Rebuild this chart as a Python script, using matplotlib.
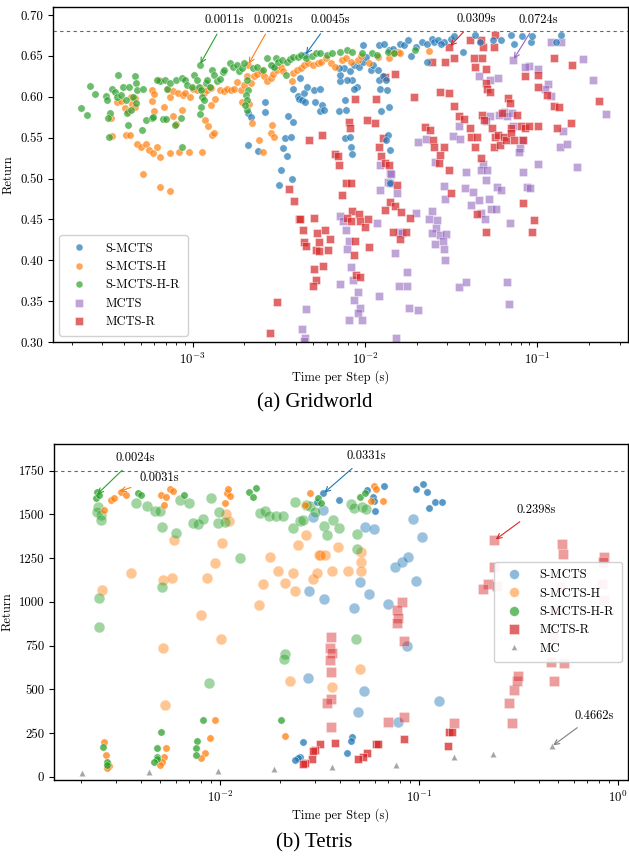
import numpy as np
import matplotlib
matplotlib.use("Agg")
import matplotlib.pyplot as plt
from matplotlib.lines import Line2D
from matplotlib.ticker import FormatStrFormatter, FixedLocator

plt.rcParams['font.family'] = 'serif'
plt.rcParams['font.serif'] = ['cmr10', 'DejaVu Serif']
plt.rcParams['mathtext.fontset'] = 'cm'
plt.rcParams['axes.formatter.use_mathtext'] = True
plt.rcParams['axes.unicode_minus'] = False

# ---------------- Gridworld data (log10 of time per step, return) ----------------
grid_shr_logt = [
    -3.645, -3.610, -3.597, -3.568, -3.504, -3.494, -3.480, -3.490, -3.486, -3.465,
    -3.451, -3.432, -3.438, -3.418, -3.403, -3.387, -3.380, -3.374, -3.368, -3.355,
    -3.345, -3.335, -3.331, -3.329, -3.325, -3.287, -3.271, -3.291, -3.238, -3.229,
    -3.170, -3.155, -3.103, -3.068, -3.064, -3.190, -3.209, -3.161, -3.151, -3.132,
    -3.097, -3.064, -3.044, -3.035, -3.006, -2.992, -2.977, -2.963, -2.953, -2.946,
    -2.951, -2.957, -2.934, -2.924, -2.915, -2.899, -2.889, -2.876, -2.860, -2.841,
    -2.825, -2.818, -2.783, -2.763, -2.740, -2.732, -2.715, -2.701, -2.686, -2.676,
    -2.690, -2.686, -2.682, -2.696, -2.647, -2.624, -2.589, -2.570, -2.546, -2.527,
    -2.517, -2.502, -2.482, -2.453, -2.457, -2.434, -2.415, -2.391, -2.370, -2.341,
    -2.308, -2.283, -2.260, -2.959, -2.221, -2.192, -2.143, -2.105, -2.076, -2.017,
    -1.959, -1.930, -1.868, -1.829, -1.707]
grid_shr_ret = [
    0.586, 0.578, 0.613, 0.603, 0.601, 0.596, 0.580, 0.574, 0.551, 0.609,
    0.606, 0.627, 0.600, 0.602, 0.612, 0.596, 0.580, 0.566, 0.612, 0.584,
    0.600, 0.625, 0.617, 0.592, 0.608, 0.609, 0.572, 0.559, 0.574, 0.575,
    0.573, 0.573, 0.566, 0.574, 0.539, 0.619, 0.621, 0.621, 0.609, 0.617,
    0.621, 0.623, 0.621, 0.614, 0.612, 0.627, 0.621, 0.612, 0.608, 0.600,
    0.588, 0.579, 0.596, 0.617, 0.621, 0.612, 0.633, 0.627, 0.619, 0.622,
    0.630, 0.633, 0.641, 0.637, 0.639, 0.631, 0.635, 0.641, 0.621, 0.608,
    0.602, 0.596, 0.584, 0.590, 0.635, 0.637, 0.633, 0.647, 0.639, 0.637,
    0.647, 0.643, 0.645, 0.643, 0.627, 0.646, 0.649, 0.649, 0.651, 0.648,
    0.650, 0.653, 0.654, 0.639, 0.651, 0.654, 0.655, 0.657, 0.655, 0.653,
    0.653, 0.651, 0.655, 0.654, 0.657]

grid_sh_logt = [
    -3.471, -3.465, -3.438, -3.413, -3.389, -3.364, -3.355, -3.349, -3.333, -3.393,
    -3.374, -3.335, -3.322, -3.302, -3.273, -3.254, -3.229, -3.209, -3.190, -3.128,
    -3.287, -3.186, -3.132, -3.079, -3.019, -2.946, -3.116, -3.097, -3.064, -3.238,
    -3.234, -3.225, -3.225, -3.194, -3.167, -3.141, -3.132, -3.112, -3.083, -3.058,
    -3.042, -3.015, -2.996, -2.973, -2.951, -2.934, -2.915, -2.895, -2.930, -2.909,
    -2.887, -2.874, -2.891, -2.870, -2.841, -2.818, -2.798, -2.779, -2.760, -2.740,
    -2.721, -2.701, -2.682, -2.663, -2.643, -2.624, -2.605, -2.585, -2.566, -2.546,
    -2.535, -2.511, -2.488, -2.477, -2.415, -2.422, -2.395, -2.372, -2.356, -2.333,
    -2.304, -2.275, -2.711, -2.670, -2.657, -2.616, -2.589, -2.546, -2.527, -2.541,
    -2.678, -2.256, -2.225, -2.198, -2.173, -2.134, -2.109, -2.081, -2.043, -2.023,
    -1.979, -1.926, -1.862, -1.837, -1.810, -1.795, -1.630]
grid_sh_ret = [
    0.574, 0.552, 0.594, 0.595, 0.553, 0.553, 0.600, 0.591, 0.598, 0.586,
    0.582, 0.588, 0.542, 0.538, 0.542, 0.535, 0.531, 0.538, 0.526, 0.531,
    0.506, 0.490, 0.485, 0.532, 0.533, 0.533, 0.577, 0.567, 0.584, 0.608,
    0.595, 0.603, 0.583, 0.621, 0.588, 0.610, 0.600, 0.607, 0.604, 0.602,
    0.605, 0.600, 0.609, 0.608, 0.611, 0.605, 0.608, 0.611, 0.572, 0.564,
    0.553, 0.556, 0.590, 0.597, 0.608, 0.607, 0.609, 0.608, 0.610, 0.618,
    0.608, 0.614, 0.625, 0.617, 0.625, 0.628, 0.631, 0.625, 0.619, 0.623,
    0.628, 0.633, 0.637, 0.632, 0.629, 0.619, 0.633, 0.635, 0.639, 0.641,
    0.639, 0.641, 0.594, 0.591, 0.568, 0.547, 0.533, 0.556, 0.551, 0.566,
    0.639, 0.643, 0.647, 0.641, 0.637, 0.645, 0.647, 0.643, 0.645, 0.650,
    0.641, 0.649, 0.648, 0.653, 0.655, 0.653, 0.656]

grid_s_logt = [
    -2.676, -2.663, -2.676, -2.622, -2.579, -2.579, -2.531, -2.496, -2.488, -2.473,
    -2.461, -2.450, -2.444, -2.430, -2.424, -2.415, -2.415, -2.389, -2.385, -2.376,
    -2.366, -2.356, -2.347, -2.337, -2.298, -2.289, -2.263, -2.260, -2.250, -2.240,
    -2.153, -2.109, -2.114, -2.047, -2.076, -2.105, -2.143, -2.147, -2.124, -2.153,
    -2.085, -2.066, -2.037, -2.014, -2.014, -1.994, -1.965, -1.953, -1.926, -1.917,
    -1.897, -1.878, -1.911, -1.872, -1.862, -1.905, -2.062, -1.917, -1.888, -1.862,
    -1.839, -1.795, -1.771, -1.752, -1.733, -1.703, -1.669, -1.640, -1.610, -1.597,
    -1.578, -1.539, -1.500, -1.481, -1.432, -1.640, -1.558, -1.359, -1.335, -1.258,
    -1.209, -1.151, -1.136, -1.087, -1.039, -1.029, -0.893, -0.864, -2.114, -2.085,
    -2.081, -2.074, -1.864, -1.853, -1.880, -1.857, -2.347]
grid_s_ret = [
    0.580, 0.575, 0.541, 0.534, 0.594, 0.581, 0.638, 0.492, 0.511, 0.537,
    0.549, 0.527, 0.576, 0.551, 0.499, 0.569, 0.610, 0.601, 0.597, 0.623,
    0.596, 0.604, 0.594, 0.612, 0.608, 0.594, 0.610, 0.582, 0.590, 0.584,
    0.582, 0.584, 0.596, 0.612, 0.620, 0.621, 0.619, 0.627, 0.635, 0.635,
    0.632, 0.639, 0.637, 0.643, 0.663, 0.649, 0.633, 0.639, 0.633, 0.620,
    0.625, 0.621, 0.610, 0.608, 0.587, 0.583, 0.610, 0.663, 0.665, 0.657,
    0.659, 0.665, 0.663, 0.669, 0.650, 0.661, 0.667, 0.665, 0.671, 0.667,
    0.669, 0.667, 0.671, 0.674, 0.655, 0.643, 0.665, 0.676, 0.667, 0.669,
    0.669, 0.676, 0.665, 0.674, 0.667, 0.674, 0.667, 0.676, 0.549, 0.551,
    0.539, 0.530, 0.553, 0.535, 0.547, 0.495, 0.651]

grid_mr_logt = [
    -2.327, -2.438, -2.411, -2.382, -2.511, -2.550, -2.295, -2.357, -2.279, -2.231,
    -2.202, -2.264, -2.353, -2.341, -2.283, -2.264, -2.217, -2.244, -2.293, -2.285,
    -2.302, -2.376, -2.250, -2.172, -2.159, -2.153, -2.095, -2.089, -2.109, -2.081,
    -2.134, -2.056, -1.988, -1.940, -1.934, -1.921, -1.907, -1.895, -1.882, -1.862,
    -1.814, -1.828, -1.882, -1.717, -1.649, -1.624, -1.605, -1.597, -1.572, -1.562,
    -1.539, -1.514, -1.500, -1.481, -1.533, -1.610, -1.566, -1.514, -1.485, -1.455,
    -1.426, -1.393, -1.384, -1.359, -1.349, -1.329, -1.320, -1.310, -1.300, -1.291,
    -1.275, -1.262, -1.252, -1.248, -1.229, -1.217, -1.205, -1.194, -1.184, -1.171,
    -1.159, -1.151, -1.155, -1.136, -1.116, -1.093, -1.081, -1.074, -1.047, -0.996,
    -1.070, -0.998, -0.998, -0.942, -0.903, -0.874, -0.884, -0.802, -0.641, -0.797,
    -0.903, -1.368, -1.320, -1.314, -1.252, -1.248, -1.388, -1.329, -1.300, -1.359,
    -1.510, -2.076, -2.105, -2.081, -2.037, -2.031, -1.998, -1.985, -1.975, -2.060,
    -2.062, -2.050, -2.031, -1.853, -1.828, -1.882, -1.791, -1.740, -1.837, -1.795,
    -1.762, -1.349, -1.295, -1.081, -1.019, -1.033]
grid_mr_ret = [
    0.547, 0.487, 0.473, 0.450, 0.349, 0.311, 0.452, 0.437, 0.433, 0.437,
    0.426, 0.422, 0.422, 0.417, 0.413, 0.411, 0.413, 0.393, 0.389, 0.376,
    0.368, 0.450, 0.553, 0.530, 0.527, 0.516, 0.569, 0.562, 0.494, 0.494,
    0.480, 0.597, 0.572, 0.568, 0.597, 0.539, 0.527, 0.549, 0.519, 0.517,
    0.492, 0.628, 0.624, 0.600, 0.563, 0.559, 0.547, 0.539, 0.519, 0.529,
    0.539, 0.511, 0.482, 0.648, 0.643, 0.643, 0.606, 0.604, 0.589, 0.576,
    0.573, 0.562, 0.551, 0.539, 0.551, 0.525, 0.578, 0.572, 0.617, 0.610,
    0.606, 0.562, 0.539, 0.551, 0.553, 0.541, 0.580, 0.551, 0.547, 0.598,
    0.592, 0.562, 0.556, 0.547, 0.578, 0.564, 0.547, 0.562, 0.564, 0.564,
    0.625, 0.627, 0.612, 0.602, 0.589, 0.587, 0.562, 0.568, 0.595, 0.639,
    0.648, 0.648, 0.648, 0.661, 0.661, 0.676, 0.669, 0.669, 0.634, 0.637,
    0.661, 0.460, 0.452, 0.448, 0.456, 0.448, 0.441, 0.450, 0.416, 0.424,
    0.406, 0.382, 0.380, 0.471, 0.466, 0.461, 0.459, 0.452, 0.435, 0.426,
    0.435, 0.456, 0.435, 0.470, 0.449, 0.435]

grid_m_logt = [
    -1.140, -1.049, -1.074, -0.998, -0.923, -0.860, -0.733, -0.674, -0.603, -0.938,
    -0.955, -0.919, -1.339, -1.277, -1.227, -1.223, -1.194, -1.174, -1.145, -1.275,
    -1.300, -1.455, -1.488, -1.450, -1.694, -1.643, -1.591, -1.411, -1.314, -1.329,
    -1.291, -1.101, -1.107, -1.081, -0.996, -0.868, -0.826, -0.849, -0.767, -1.915,
    -1.857, -1.849, -1.868, -1.853, -1.915, -1.814, -1.543, -1.417, -1.372, -1.300,
    -1.233, -1.213, -1.058, -1.140, -1.087, -1.533, -1.387, -1.339, -1.281, -1.268,
    -1.242, -1.329, -1.304, -1.043, -1.159, -1.703, -1.611, -1.626, -1.581, -1.585,
    -1.611, -1.566, -1.527, -1.548, -1.591, -1.543, -1.537, -1.928, -1.800, -1.785,
    -1.824, -1.756, -1.756, -1.802, -1.742, -1.694, -1.919, -1.820, -2.143, -2.128,
    -2.111, -2.095, -2.105, -2.081, -2.070, -2.043, -2.066, -2.027, -2.043, -2.091,
    -2.017, -2.147, -2.343, -2.366, -2.347, -1.452, -1.413, -1.178, -1.165, -2.356]
grid_m_ret = [
    0.645, 0.638, 0.637, 0.634, 0.667, 0.667, 0.646, 0.621, 0.579, 0.615,
    0.609, 0.601, 0.625, 0.621, 0.623, 0.578, 0.581, 0.577, 0.580, 0.577,
    0.570, 0.564, 0.552, 0.548, 0.545, 0.548, 0.520, 0.508, 0.518, 0.510,
    0.510, 0.537, 0.532, 0.508, 0.518, 0.538, 0.542, 0.558, 0.514, 0.517,
    0.507, 0.506, 0.496, 0.495, 0.486, 0.482, 0.491, 0.488, 0.484, 0.498,
    0.490, 0.486, 0.490, 0.564, 0.547, 0.475, 0.468, 0.474, 0.475, 0.463,
    0.463, 0.458, 0.451, 0.488, 0.445, 0.458, 0.460, 0.450, 0.449, 0.439,
    0.433, 0.431, 0.432, 0.423, 0.420, 0.414, 0.400, 0.445, 0.434, 0.433,
    0.409, 0.386, 0.369, 0.368, 0.341, 0.339, 0.356, 0.305, 0.454, 0.448,
    0.437, 0.423, 0.414, 0.392, 0.376, 0.361, 0.351, 0.342, 0.335, 0.327,
    0.327, 0.371, 0.340, 0.316, 0.305, 0.367, 0.374, 0.373, 0.346, 0.301]

grid_best_line = 0.68
grid_annot_labels = ['0.0011s', '0.0021s', '0.0045s', '0.0309s', '0.0724s']
grid_annot_time = [0.0011, 0.0021, 0.0045, 0.0309, 0.0724]
grid_annot_ret = [0.639, 0.639, 0.651, 0.661, 0.645]

# ---------------- Tetris data ----------------
tet_shr_small_logt = [-2.615, -2.620, -2.606, -2.410, -2.394, -2.181, -1.853, -1.836, -1.819, -1.506,
                      -1.494, -1.296, -1.271, -2.586, -2.569, -2.566, -2.296, -2.315, -2.318, -2.315,
                      -2.332, -2.084, -2.114, -2.121, -2.122, -1.693]
tet_shr_small_ret = [1630, 1592, 1611, 1620, 1611, 1611, 1626, 1601, 1649, 1592,
                     1567, 1601, 1624, 171, 85, 66, 257, 162, 114, 99,
                     82, 324, 206, 162, 123, 324]
tet_shr_large_logt = [-2.611, -2.616, -2.595, -2.598, -2.422, -2.368, -2.327, -2.298, -2.290, -2.218,
                      -2.198, -2.157, -2.137, -2.109, -2.084, -2.042, -2.003, -2.008, -1.975, -1.899,
                      -1.799, -1.774, -1.752, -1.719, -1.685, -1.635, -1.623, -1.598, -1.565, -2.290,
                      -2.608, -2.608, -2.054, -1.673, -1.678, -1.585, -1.548, -1.523, -1.430, -1.477,
                      -1.461, -1.400, -1.342, -1.327, -1.288, -1.266, -1.310, -1.310, -1.317]
tet_shr_large_ret = [1544, 1515, 1497, 1468, 1567, 1550, 1519, 1521, 1430, 1392,
                     1582, 1567, 1449, 1445, 1472, 1592, 1515, 1453, 1458, 1249,
                     1510, 1521, 1491, 1491, 1491, 1424, 1573, 1464, 1554, 1083,
                     1020, 858, 534, 701, 676, 1468, 1548, 1515, 1468, 1434,
                     1382, 1420, 1559, 1535, 1540, 1529, 1388, 1302, 785]

tet_sh_small_logt = [-2.544, -2.531, -2.494, -2.472, -2.293, -2.271, -2.281, -2.248, -2.234, -1.975,
                     -1.963, -1.958, -1.950, -1.548, -1.573, -1.226, -1.216, -1.243, -1.179, -2.583,
                     -2.573, -2.561, -2.556, -2.566, -2.271, -2.280, -2.288, -2.298, -2.025, -2.047,
                     -2.075, -2.095, -1.673, -2.583]
tet_sh_small_ret = [1582, 1592, 1626, 1611, 1611, 1601, 1554, 1643, 1636, 1567,
                    1624, 1643, 1605, 1624, 1554, 1662, 1643, 1578, 1577, 200,
                    123, 75, 60, 47, 162, 114, 85, 66, 324, 219,
                    133, 104, 234, 1525]
tet_sh_large_logt = [-2.590, -2.444, -2.285, -2.238, -2.229, -2.095, -2.064, -2.025, -1.987, -1.967,
                     -1.953, -1.802, -1.782, -1.749, -1.707, -1.673, -1.631, -1.623, -1.610, -1.568,
                     -1.534, -1.511, -1.501, -2.285, -2.273, -1.992, -1.648, -1.497, -1.472, -1.405,
                     -1.439, -1.355, -1.291, -1.291, -1.291, -1.296, -1.439]
tet_sh_large_ret = [1067, 1163, 1125, 1134, 1353, 924, 1134, 1224, 1334, 1502,
                    1462, 982, 1102, 1258, 1178, 1109, 1167, 1064, 1325, 1382,
                    1128, 1167, 1268, 738, 410, 787, 549, 1268, 1268, 1312,
                    1178, 1178, 1287, 1230, 1178, 614, 514]

tet_s_small_logt = [-1.481, -1.514, -1.400, -1.263, -1.230, -1.226, -1.176, -0.982, -0.958, -1.015,
                    -0.920, -0.886, -0.948, -1.338, -1.343, -1.363, -1.581, -1.598, -1.606, -1.623,
                    -1.221]
tet_s_small_ret = [1620, 1573, 1582, 1640, 1601, 1577, 1664, 1672, 1630, 1643,
                   1569, 1573, 1535, 228, 205, 137, 200, 114, 104, 95,
                   1521]
tet_s_large_logt = [-1.531, -1.484, -1.271, -1.226, -1.296, -1.250, -1.327, -1.477, -1.551, -1.154,
                    -1.121, -1.087, -1.054, -1.015, -1.032, -0.987, -1.059, -1.556, -1.276, -1.305,
                    -1.107, -0.898]
tet_s_large_ret = [1487, 1525, 1430, 1417, 1115, 1043, 963, 1014, 1062, 987,
                   1201, 1230, 1254, 1121, 1472, 1373, 747, 562, 492, 368,
                   314, 434]

tet_mr_large_logt = [-0.626, -0.623, -0.652, -0.610, -0.677, -0.283, -0.275, -0.070, -0.074, -1.087,
                     -1.112, -1.104, -1.112, -1.442, -1.447, -1.436, -1.447, -1.442, -1.444, -1.464,
                     -1.444, -1.074, -1.076, -1.157, -0.824, -0.548, -0.534, -0.521, -0.509, -0.501,
                     -0.338, -0.320, -0.270, -0.325, -0.082, -0.070, -0.291, -0.300]
tet_mr_large_ret = [1353, 1197, 1105, 1090, 1071, 1330, 1273, 1258, 1230, 997,
                    953, 905, 877, 801, 734, 705, 667, 600, 444, 419,
                    282, 778, 343, 314, 308, 419, 308, 495, 549, 577,
                    657, 547, 648, 800, 1105, 1010, 1087, 960]
tet_mr_small_logt = [-1.422, -1.074, -1.216, -1.204, -1.263, -1.283, -1.305, -1.497, -1.523, -1.531,
                     -1.539, -1.573, -1.585, -0.848, -0.836, -0.856]
tet_mr_small_ret = [190, 213, 186, 186, 137, 110, 99, 185, 152, 148,
                    99, 76, 72, 253, 253, 175]

tet_mc_logt = [-2.690, -2.355, -2.008, -1.729, -1.439, -1.116, -0.824, -0.630, -0.331]
tet_mc_ret = [22, 28, 34, 43, 57, 66, 110, 127, 175]

tet_best_line = 1750
tet_annot_labels = ['0.0024s', '0.0031s', '0.0331s', '0.2398s', '0.4662s']
tet_annot_time = [0.0024, 0.0031, 0.0331, 0.2398, 0.4662]
tet_annot_ret = [1611, 1630, 1620, 1353, 175]

grid_xticks = [1e-3, 1e-2, 1e-1]
grid_yticks = [0.30, 0.35, 0.40, 0.45, 0.50, 0.55, 0.60, 0.65, 0.70]
tet_xticks = [1e-2, 1e-1, 1e0]
tet_yticks = [0, 250, 500, 750, 1000, 1250, 1500, 1750]

# ---------------- styling ----------------
C_BLUE, C_ORANGE, C_GREEN = '#1f77b4', '#ff7f0e', '#2ca02c'
C_PURPLE, C_RED, C_GRAY = '#9467bd', '#d62728', '#7f7f7f'
FS = 9
TFS = 9.3

fig = plt.figure(figsize=(6.29, 8.57), dpi=100)
W, H = 629.0, 857.0
ax1 = fig.add_axes([53 / W, 1 - 342 / H, (628 - 53) / W, (342 - 7) / H])
ax2 = fig.add_axes([54 / W, 1 - 780 / H, (628 - 54) / W, (780 - 444) / H])


def sc(ax, logt, ret, color, marker='o', s=28, alpha=0.7, z=2):
    ax.scatter(10 ** np.asarray(logt), ret, s=s, c=color, marker=marker,
               alpha=alpha, edgecolors='white', linewidths=0.4, zorder=z)


# Gridworld
sc(ax1, grid_m_logt, grid_m_ret, C_PURPLE, marker='s', s=32, alpha=0.6)
sc(ax1, grid_mr_logt, grid_mr_ret, C_RED, marker='s', s=32, alpha=0.7)
sc(ax1, grid_s_logt, grid_s_ret, C_BLUE, alpha=0.7)
sc(ax1, grid_sh_logt, grid_sh_ret, C_ORANGE, alpha=0.7)
sc(ax1, grid_shr_logt, grid_shr_ret, C_GREEN, alpha=0.7)
ax1.axhline(grid_best_line, color='#666666', lw=0.8, ls=(0, (3, 3)), zorder=1)
ax1.set_xscale('log')
ax1.set_xlim(1.55e-4, 0.336)
ax1.set_ylim(0.30, 0.7098)
ax1.yaxis.set_major_locator(FixedLocator(grid_yticks))
ax1.yaxis.set_major_formatter(FormatStrFormatter('%.2f'))
ax1.set_xlabel('Time per Step (s)', fontsize=FS, labelpad=2)
ax1.set_ylabel('Return', fontsize=FS, labelpad=4)

grid_colors = [C_GREEN, C_ORANGE, C_BLUE, C_RED, C_PURPLE]
grid_offsets = [(18, 32), (18, 32), (18, 25), (19, 20), (18, 29)]
for lab, t, r, col, off in zip(grid_annot_labels, grid_annot_time, grid_annot_ret,
                               grid_colors, grid_offsets):
    ax1.annotate(lab, xy=(t, r), xytext=off, textcoords='offset points',
                 ha='center', va='center', fontsize=FS,
                 arrowprops=dict(arrowstyle='->', color=col, lw=0.8,
                                 shrinkA=4, shrinkB=1), zorder=5)

h1 = [Line2D([], [], ls='', marker='o', ms=5, color=C_BLUE, alpha=0.7, mec='white', mew=0.4),
      Line2D([], [], ls='', marker='o', ms=5, color=C_ORANGE, alpha=0.7, mec='white', mew=0.4),
      Line2D([], [], ls='', marker='o', ms=5, color=C_GREEN, alpha=0.7, mec='white', mew=0.4),
      Line2D([], [], ls='', marker='s', ms=5.5, color=C_PURPLE, alpha=0.6, mec='white', mew=0.4),
      Line2D([], [], ls='', marker='s', ms=5.5, color=C_RED, alpha=0.7, mec='white', mew=0.4)]
ax1.legend(h1, ['S-MCTS', 'S-MCTS-H', 'S-MCTS-H-R', 'MCTS', 'MCTS-R'],
           loc='lower left', fontsize=FS, labelspacing=0.5, handletextpad=1.1,
           borderpad=0.6, framealpha=0.9, edgecolor='#cccccc')

# Tetris
sc(ax2, tet_s_large_logt, tet_s_large_ret, C_BLUE, s=60, alpha=0.45)
sc(ax2, tet_sh_large_logt, tet_sh_large_ret, C_ORANGE, s=60, alpha=0.45)
sc(ax2, tet_shr_large_logt, tet_shr_large_ret, C_GREEN, s=60, alpha=0.45)
sc(ax2, tet_mr_large_logt, tet_mr_large_ret, C_RED, marker='s', s=60, alpha=0.45)
sc(ax2, tet_s_small_logt, tet_s_small_ret, C_BLUE, s=28, alpha=0.75)
sc(ax2, tet_sh_small_logt, tet_sh_small_ret, C_ORANGE, s=28, alpha=0.75)
sc(ax2, tet_shr_small_logt, tet_shr_small_ret, C_GREEN, s=28, alpha=0.75)
sc(ax2, tet_mr_small_logt, tet_mr_small_ret, C_RED, marker='s', s=36, alpha=0.75)
sc(ax2, tet_mc_logt, tet_mc_ret, C_GRAY, marker='^', s=22, alpha=0.7)
ax2.axhline(tet_best_line, color='#666666', lw=0.8, ls=(0, (3, 3)), zorder=1)
ax2.set_xscale('log')
ax2.set_xlim(1.47e-3, 1.12)
ax2.set_ylim(-19, 1903)
ax2.yaxis.set_major_locator(FixedLocator(tet_yticks))
ax2.yaxis.set_major_formatter(FormatStrFormatter('%d'))
ax2.set_xlabel('Time per Step (s)', fontsize=FS, labelpad=2)
ax2.set_ylabel('Return', fontsize=FS, labelpad=4)

tet_colors = [C_GREEN, C_ORANGE, C_BLUE, C_RED, C_GRAY]
tet_offsets = [(28, 27), (29, 10), (31, 27), (30, 22), (30, 22)]
for lab, t, r, col, off in zip(tet_annot_labels, tet_annot_time, tet_annot_ret,
                               tet_colors, tet_offsets):
    ax2.annotate(lab, xy=(t, r), xytext=off, textcoords='offset points',
                 ha='center', va='center', fontsize=FS,
                 arrowprops=dict(arrowstyle='->', color=col, lw=0.8,
                                 shrinkA=4, shrinkB=1), zorder=5)

h2 = [Line2D([], [], ls='', marker='o', ms=7, color=C_BLUE, alpha=0.5, mec='white', mew=0.4),
      Line2D([], [], ls='', marker='o', ms=7, color=C_ORANGE, alpha=0.5, mec='white', mew=0.4),
      Line2D([], [], ls='', marker='o', ms=7, color=C_GREEN, alpha=0.7, mec='white', mew=0.4),
      Line2D([], [], ls='', marker='s', ms=7, color=C_RED, alpha=0.7, mec='white', mew=0.4),
      Line2D([], [], ls='', marker='^', ms=5, color=C_GRAY, alpha=0.7, mec='white', mew=0.4)]
ax2.legend(h2, ['S-MCTS', 'S-MCTS-H', 'S-MCTS-H-R', 'MCTS-R', 'MC'],
           loc='center right', fontsize=FS, labelspacing=0.5, handletextpad=1.1,
           borderpad=0.6, framealpha=0.9, edgecolor='#cccccc')

for ax, xt in ((ax1, grid_xticks), (ax2, tet_xticks)):
    ax.set_xticks(xt)
    ax.tick_params(axis='both', which='major', labelsize=TFS, length=3.5, width=0.8)
    ax.tick_params(axis='x', which='minor', length=2, width=0.6)
    for sp in ax.spines.values():
        sp.set_linewidth(1.0)

fig.text(0.5, 1 - 403 / H, '(a) Gridworld', ha='center', va='center',
         fontsize=15, family='Liberation Serif')
fig.text(0.5, 1 - 843 / H, '(b) Tetris', ha='center', va='center',
         fontsize=15, family='Liberation Serif')

fig.savefig('out.png', dpi=100)
